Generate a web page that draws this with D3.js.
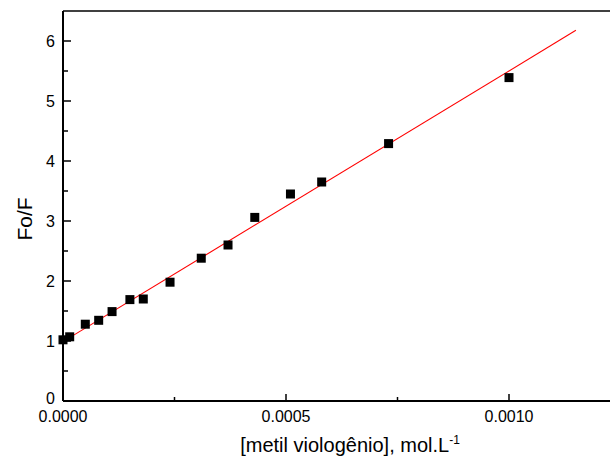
<!DOCTYPE html>
<html>
<head>
<meta charset="utf-8">
<script src="https://cdn.jsdelivr.net/npm/d3@7"></script>
<style>
  body { margin: 0; background: #fff; }
  text { font-family: "Liberation Sans", Arial, sans-serif; fill: #000; }
</style>
</head>
<body>
<div class="chart"></div>
<script>
// concentração de metil viologênio (mol/L)
const concs = [0, 0.000015, 0.00005, 0.00008, 0.00011, 0.00015, 0.00018, 0.00024,
               0.00031, 0.00037, 0.00043, 0.00051, 0.00058, 0.00073, 0.001];
// razão Fo/F
const ratios = [1.02, 1.07, 1.28, 1.345, 1.49, 1.69, 1.70, 1.98,
                2.38, 2.60, 3.06, 3.45, 3.65, 4.29, 5.39];
// ajuste linear (Stern-Volmer)
const fitX = [0, 0.00115];
const fitIntercept = 0.99;
const fitSlope = 4511;
const xTicks = [0, 0.0005, 0.001];
const xMinor = [0.00025, 0.00075];
const yTicks = [0, 1, 2, 3, 4, 5, 6];
const yMinor = [0.5, 1.5, 2.5, 3.5, 4.5, 5.5];

const svg_width = 610, svg_height = 463;
const margin = { top: 11, left: 63 };
const chart_height = 390;

const svg = d3.select('.chart').append('svg')
    .attr('width', svg_width).attr('height', svg_height);

const xScale = d3.scaleLinear().domain([0, 0.001]).range([margin.left, margin.left + 446]);
const xMax = 0.00124;
const yScale = d3.scaleLinear().domain([0, 6.5]).range([margin.top + chart_height, margin.top]);

// frame (top line)
svg.append('line')
    .attr('x1', margin.left).attr('x2', xScale(xMax))
    .attr('y1', yScale(6.5)).attr('y2', yScale(6.5))
    .style('stroke', '#000').style('stroke-width', 1.6);

// y axis
const yAxis = svg.append('g').attr('transform', `translate(${margin.left},0)`);
yAxis.append('line')
    .attr('x1', 0).attr('x2', 0).attr('y1', yScale(0)).attr('y2', yScale(6.5))
    .style('stroke', '#000').style('stroke-width', 2);
yAxis.selectAll('.ymaj').data(yTicks).enter().append('line')
    .attr('x1', 0).attr('x2', 8).attr('y1', d => yScale(d)).attr('y2', d => yScale(d))
    .style('stroke', '#000').style('stroke-width', 1.5);
yAxis.selectAll('.ymin').data(yMinor).enter().append('line')
    .attr('x1', 0).attr('x2', 5).attr('y1', d => yScale(d)).attr('y2', d => yScale(d))
    .style('stroke', '#000').style('stroke-width', 1.5);
yAxis.selectAll('.ylab').data(yTicks).enter().append('text')
    .attr('x', -8).attr('y', d => yScale(d))
    .attr('dy', d => d === 0 ? '0.2em' : '0.35em')
    .style('text-anchor', 'end').style('font-size', '16px')
    .text(d => d);

// x axis
const xAxis = svg.append('g').attr('transform', `translate(0,${yScale(0)})`);
xAxis.append('line')
    .attr('x1', margin.left).attr('x2', xScale(xMax)).attr('y1', 0).attr('y2', 0)
    .style('stroke', '#000').style('stroke-width', 2);
xAxis.selectAll('.xmaj').data(xTicks).enter().append('line')
    .attr('x1', d => xScale(d)).attr('x2', d => xScale(d)).attr('y1', 0).attr('y2', -7)
    .style('stroke', '#000').style('stroke-width', 1.5);
xAxis.selectAll('.xmin').data(xMinor).enter().append('line')
    .attr('x1', d => xScale(d)).attr('x2', d => xScale(d)).attr('y1', 0).attr('y2', -4)
    .style('stroke', '#000').style('stroke-width', 1.5);
xAxis.selectAll('.xlab').data(xTicks).enter().append('text')
    .attr('x', d => xScale(d)).attr('y', 21)
    .style('text-anchor', 'middle').style('font-size', '16px')
    .text(d => d3.format('.4f')(d));

// linha de ajuste
const lineGen = d3.line()
    .x(d => xScale(d))
    .y(d => yScale(fitIntercept + fitSlope * d));
svg.append('path')
    .attr('d', lineGen(fitX))
    .style('fill', 'none').style('stroke', '#ff0000').style('stroke-width', 1.1);

// pontos
const sq = 9;
svg.append('g').selectAll('rect').data(concs).enter().append('rect')
    .attr('x', d => xScale(d) - sq / 2)
    .attr('y', (d, i) => yScale(ratios[i]) - sq / 2)
    .attr('width', sq).attr('height', sq)
    .style('fill', '#000');

// títulos dos eixos
svg.append('text')
    .attr('transform', `translate(32,${yScale(3) - 2}) rotate(-90)`)
    .style('text-anchor', 'middle').style('font-size', '21px')
    .text('Fo/F');

const xTitle = svg.append('text')
    .attr('x', 350).attr('y', 452)
    .style('text-anchor', 'middle').style('font-size', '20px');
xTitle.append('tspan').text('[metil viologênio], mol.L');
xTitle.append('tspan').attr('dy', -8).style('font-size', '12px').text('-1');
</script>
</body>
</html>
